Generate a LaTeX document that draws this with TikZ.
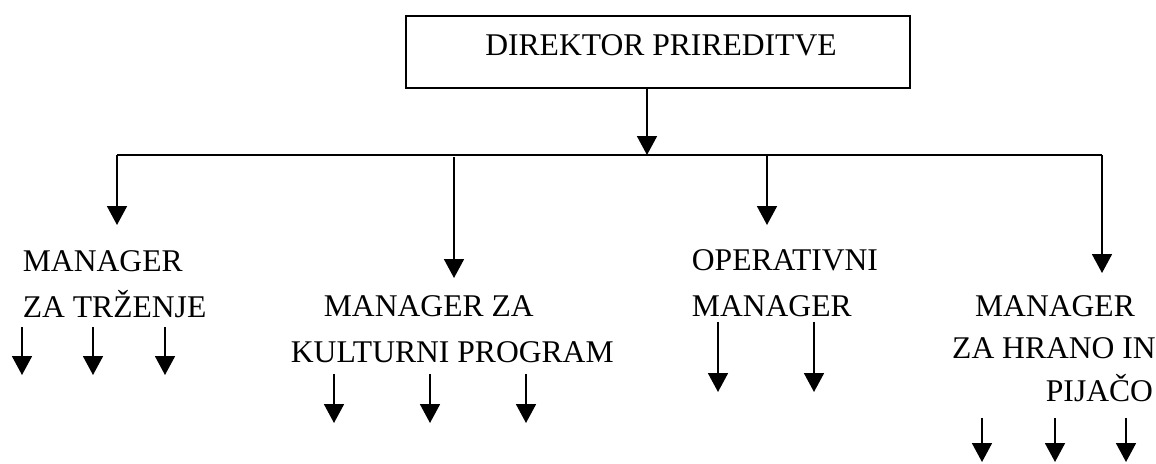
\documentclass[tikz,border=0pt]{standalone}
\usepackage{fontspec}
\setmainfont{Liberation Serif}
\usetikzlibrary{arrows.meta}
\begin{document}
\begin{tikzpicture}[x=1pt,y=-1pt,
  line width=1.8pt,
  txt/.style={inner sep=0pt,font=\fontsize{31.6}{46}\selectfont},
  arr/.style={-{Triangle[width=20pt,length=19pt]}},
  topbox/.style={draw,inner sep=0pt,minimum width=504pt,text height=40pt,text depth=32pt,font=\fontsize{31.6}{46}\selectfont}]
\useasboundingbox (0,0) rectangle (1156,463);
% top box
\node[topbox,anchor=north] (dir) at (658,15) {\hspace*{6pt}DIREKTOR PRIREDITVE};
% bus
\coordinate (j) at (647,155);
\coordinate (c1) at (117,155);
\coordinate (c2) at (454,157);
\coordinate (c3) at (767,155);
\coordinate (c4) at (1102,155);
\coordinate (a1) at (117,225);
\coordinate (a2) at (454,278);
\coordinate (a3) at (767,225);
\coordinate (a4) at (1102,273);
\draw[arr] (dir.south -| j) -- (j);
\draw (c1) -- (c4);
\draw[arr] (c1) -- (a1);
\draw[arr] (c2) -- (a2);
\draw[arr] (c3) -- (a3);
\draw[arr] (c4) -- (a4);
% manager texts
\node[txt,anchor=base west] (m1a) at (22,271) {MANAGER};
\node[txt,anchor=base west] (m1b) at (22,317) {ZA TRŽENJE};
\node[txt,anchor=base west] (m2a) at (323,316) {MANAGER ZA};
\node[txt,anchor=base west] (m2b) at (290,362) {KULTURNI PROGRAM};
\node[txt,anchor=base west] (m3a) at (691,270) {OPERATIVNI};
\node[txt,anchor=base west] (m3b) at (691,316) {MANAGER};
\node[txt,anchor=base] (m4a) at (1055,316) {MANAGER};
\node[txt,anchor=base] (m4b) at (1054,358) {ZA HRANO IN};
\node[txt,anchor=base west] (m4c) at (1045,401) {PIJAČO};
% small arrows
\foreach \x [count=\i] in {22,93,165}{
  \coordinate (l\i s) at (\x,327); \coordinate (l\i e) at (\x,375);
  \draw[arr] (l\i s) -- (l\i e);}
\foreach \x [count=\i] in {334,430,526}{
  \coordinate (k\i s) at (\x,374); \coordinate (k\i e) at (\x,423);
  \draw[arr] (k\i s) -- (k\i e);}
\foreach \x [count=\i] in {718,814}{
  \coordinate (o\i s) at (\x,322); \coordinate (o\i e) at (\x,392);
  \draw[arr] (o\i s) -- (o\i e);}
\foreach \x [count=\i] in {982,1055,1126}{
  \coordinate (h\i s) at (\x,418); \coordinate (h\i e) at (\x,462);
  \draw[arr] (h\i s) -- (h\i e);}
\end{tikzpicture}
\end{document}
